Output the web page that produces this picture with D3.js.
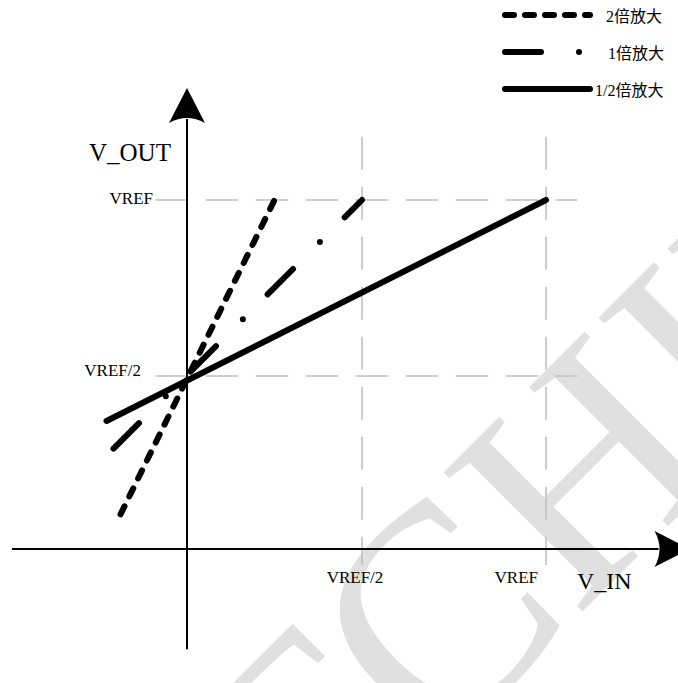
<!DOCTYPE html>
<html>
<head>
<meta charset="utf-8">
<script src="https://cdn.jsdelivr.net/npm/d3@7"></script>
<style>
    html, body { margin: 0; padding: 0; background: #ffffff; }
    svg { display: block; }
    text { font-family: "Liberation Serif", "Times New Roman", "Noto Sans CJK SC", serif; fill: #000; }
</style>
</head>
<body>
<svg id="chart"></svg>
<script>
// data, values in units of VREF
const seriesNames = ["2倍放大", "1倍放大", "1/2倍放大"];
const gain2X = [-0.19, 0.25];   // 2x line, start / end input
const gain2Y = [0.10, 1.0];
const gain1X = [-0.21, 0.5];    // 1x line
const gain1Y = [0.29, 1.0];
const gainHalfX = [-0.23, 1.0]; // 1/2x line
const gainHalfY = [0.37, 1.0];

// tick labels
const xTickValues = [0.5, 1];
const xTickLabels = ["VREF/2", "VREF"];
const yTickValues = [1, 0.5];
const yTickLabels = ["VREF", "VREF/2"];

// canvas
const canvWidth = 678;
const canvHeight = 683;

const svg = d3.select("#chart")
    .attr("width", canvWidth)
    .attr("height", canvHeight);

// scales, the sketch is not quite evenly spaced so use 3 stops
const x = d3.scaleLinear().domain([0, 0.5, 1]).range([187, 362, 546]);
const y = d3.scaleLinear().domain([0, 0.5, 1]).range([549, 376, 200]);

// watermark behind everything
const wmSize = 300;
const wmOrigin = [435, 759];
svg.append("text")
    .attr("transform", "translate(" + wmOrigin[0] + "," + wmOrigin[1] + ") rotate(-45)")
    .attr("font-size", wmSize)
    .style("fill", "#e0e0e0")
    .text("CHIP");
svg.append("text")
    .attr("transform", "translate(" + wmOrigin[0] + "," + wmOrigin[1] + ") rotate(-45)")
    .attr("font-size", wmSize)
    .attr("text-anchor", "end")
    .style("fill", "#e0e0e0")
    .text("T");

// dashed grey guide lines
const gridColor = "#c0c0c0";
yTickValues.forEach(function (v) {
    svg.append("line")
        .attr("x1", x(-0.09)).attr("x2", x(1.085))
        .attr("y1", y(v)).attr("y2", y(v))
        .attr("stroke", gridColor)
        .attr("stroke-width", 1.6)
        .attr("stroke-dasharray", "33,17");
});
xTickValues.forEach(function (v) {
    svg.append("line")
        .attr("x1", x(v)).attr("x2", x(v))
        .attr("y1", y(1.18)).attr("y2", y(-0.046))
        .attr("stroke", gridColor)
        .attr("stroke-width", 1.6)
        .attr("stroke-dasharray", "33,17");
});

// axes with arrow heads
const xTip = x(1.39);
const yTip = y(1.318);
const arrowLen = 35;
const arrowHalf = 18;

svg.append("line")
    .attr("x1", x(-0.5)).attr("x2", xTip - arrowLen + 4)
    .attr("y1", y(0)).attr("y2", y(0))
    .attr("stroke", "#000")
    .attr("stroke-width", 2);
svg.append("line")
    .attr("x1", x(0)).attr("x2", x(0))
    .attr("y1", y(-0.29)).attr("y2", yTip + arrowLen - 4)
    .attr("stroke", "#000")
    .attr("stroke-width", 2);

// x arrow
svg.append("path")
    .attr("d", "M" + xTip + "," + y(0)
        + " L" + (xTip - arrowLen) + "," + (y(0) - arrowHalf)
        + " Q" + (xTip - arrowLen + 10) + "," + y(0) + " " + (xTip - arrowLen) + "," + (y(0) + arrowHalf)
        + " Z")
    .attr("fill", "#000");
// y arrow
svg.append("path")
    .attr("d", "M" + x(0) + "," + yTip
        + " L" + (x(0) - arrowHalf) + "," + (yTip + arrowLen)
        + " Q" + x(0) + "," + (yTip + arrowLen - 10) + " " + (x(0) + arrowHalf) + "," + (yTip + arrowLen)
        + " Z")
    .attr("fill", "#000");

// tick labels on x axis
svg.selectAll(".xlabel")
    .data(xTickValues)
    .enter().append("text")
    .attr("class", "xlabel")
    .attr("x", function (d, i) { return i === 0 ? x(d) - 7 : x(d) - 8; })
    .attr("y", y(0) + 34)
    .attr("text-anchor", function (d, i) { return i === 0 ? "middle" : "end"; })
    .attr("font-size", 17)
    .text(function (d, i) { return xTickLabels[i]; });

// tick labels on y axis
svg.selectAll(".ylabel")
    .data(yTickValues)
    .enter().append("text")
    .attr("class", "ylabel")
    .attr("x", function (d, i) { return i === 0 ? x(0) - 34 : x(0) - 46; })
    .attr("y", function (d, i) { return i === 0 ? y(d) + 4 : y(d); })
    .attr("text-anchor", "end")
    .attr("font-size", 17)
    .text(function (d, i) { return yTickLabels[i]; });

// axis titles
svg.append("text")
    .attr("x", 89).attr("y", 161)
    .attr("font-size", 25)
    .text("V_OUT");
svg.append("text")
    .attr("x", 577).attr("y", 589)
    .attr("font-size", 24)
    .text("V_IN");

// transfer lines
const series = [
    { name: seriesNames[0], xs: gain2X, ys: gain2Y, dash: "9,11" },
    { name: seriesNames[1], xs: gain1X, ys: gain1Y, dash: "36,38,0,35" },
    { name: seriesNames[2], xs: gainHalfX, ys: gainHalfY, dash: null }
];

const line = d3.line()
    .x(function (d) { return x(d[0]); })
    .y(function (d) { return y(d[1]); });

svg.selectAll(".gain")
    .data(series)
    .enter().append("path")
    .attr("class", "gain")
    .attr("d", function (d) { return line(d3.zip(d.xs, d.ys)); })
    .attr("fill", "none")
    .attr("stroke", "#000")
    .attr("stroke-width", 6)
    .attr("stroke-linecap", "round")
    .attr("stroke-dasharray", function (d) { return d.dash; });

// legend in the top right corner
const legendX1 = 505;
const legendX2 = 590;
const legendRows = [15, 52, 89];
const legendTextX = [606, 608, 595];

const legend = svg.selectAll(".legend")
    .data(series)
    .enter().append("g")
    .attr("class", "legend");

legend.append("line")
    .attr("x1", legendX1).attr("x2", legendX2)
    .attr("y1", function (d, i) { return legendRows[i]; })
    .attr("y2", function (d, i) { return legendRows[i]; })
    .attr("stroke", "#000")
    .attr("stroke-width", 6)
    .attr("stroke-linecap", "round")
    .attr("stroke-dasharray", function (d) { return d.dash; });

legend.append("text")
    .attr("x", function (d, i) { return legendTextX[i]; })
    .attr("y", function (d, i) { return legendRows[i] + 7; })
    .attr("font-size", 16)
    .text(function (d) { return d.name; });
</script>
</body>
</html>
